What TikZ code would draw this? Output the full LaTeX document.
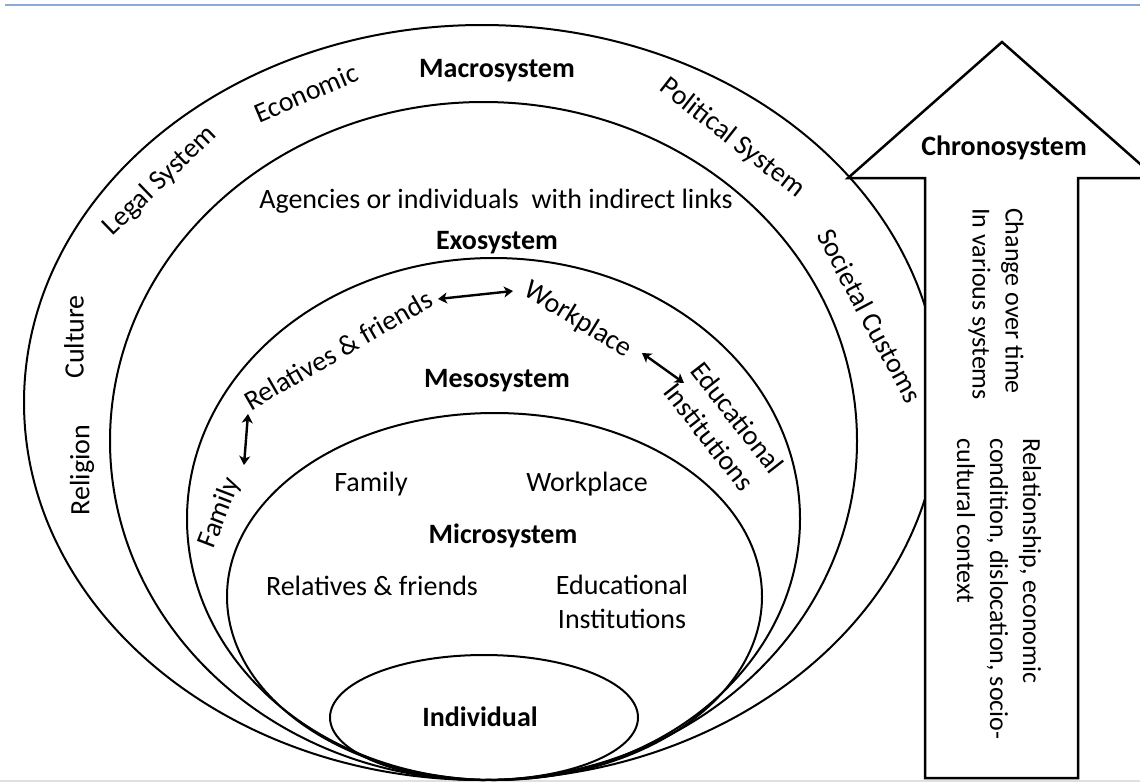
\documentclass[tikz,border=0pt]{standalone}
\usepackage{fontspec}
\setmainfont{Carlito}
\usetikzlibrary{arrows.meta}
\begin{document}
\begin{tikzpicture}[x=1pt,y=-1pt,
  ring/.style={draw=black,line width=2pt},
  lbl/.style={font=\fontsize{28}{34}\selectfont, inner sep=0pt},
  bl/.style={font=\fontsize{28}{34}\selectfont\bfseries, inner sep=0pt},
  chr/.style={font=\fontsize{26}{33}\selectfont, inner sep=0pt, align=left, rotate=-90},
  link/.style={{Stealth[length=9pt,width=11pt,inset=2.5pt]}-{Stealth[length=9pt,width=11pt,inset=2.5pt]}, line width=2.4pt},
  chrono/.style={draw=black, line width=2.5pt, fill=white, line join=miter}
]
\useasboundingbox (0,0) rectangle (1140,782);
\clip (0,0) rectangle (1140,782);
% top and bottom rules
\draw[line width=2pt, draw={rgb,255:red,141;green,170;blue,214}] (5,5) -- (1140,5);
\draw[line width=2pt, draw=black!12] (0,781) -- (1140,781);
% rings
\draw[ring] (482,402.5) ellipse [x radius=458pt, y radius=377.5pt];
\draw[ring] (483.5,441) ellipse [x radius=373.5pt, y radius=339pt];
\draw[ring] (493.5,519) ellipse [x radius=306.5pt, y radius=261pt];
\draw[ring] (494.5,596.5) ellipse [x radius=267.5pt, y radius=183.5pt];
\draw[ring] (484,717.5) ellipse [x radius=154pt, y radius=62.5pt];
% chronosystem arrow
\draw[chrono] (925,778) -- (925,178) -- (848,178) -- (1002,42) -- (1156,178) -- (1078,178) -- (1078,778) -- cycle;
% macrosystem
\node[bl] (macro) at (497,71) {Macrosystem};
\node[lbl,rotate=90] (religion) at (82,470) {Religion};
\node[lbl,rotate=90] (culture) at (74,337) {Culture};
\node[lbl,rotate=44] (legal) at (160,181) {Legal System};
\node[lbl,rotate=23] (econ) at (306,93) {Economic};
\node[lbl,rotate=-38] (pol) at (732,138) {Political System};
\node[lbl,rotate=-62] (soc) at (870,316) {Societal Customs};
% exosystem
\node[lbl] (agen) at (496,201) {Agencies or individuals\ \ with indirect links};
\node[bl] (exo) at (497,243) {Exosystem};
% mesosystem
\node[lbl,rotate=30] (mrel) at (338,350) {Relatives \& friends};
\node[lbl,rotate=-31.5] (mwork) at (578,320) {Workplace};
\node[lbl,rotate=-52,align=left] (medu) at (724,428) {Educational\\Institutions};
\node[lbl,rotate=69] (mfam) at (220,513) {Family};
\node[bl] (meso) at (497,381) {Mesosystem};
\coordinate (a1) at (438,299);
\coordinate (a2) at (513,291);
\coordinate (b1) at (642,353);
\coordinate (b2) at (684,383);
\coordinate (c1) at (248,414);
\coordinate (c2) at (244,465);
\draw[link] (a1) -- (a2);
\draw[link] (b1) -- (b2);
\draw[link] (c1) -- (c2);
% microsystem
\node[lbl] (ufam) at (371,484) {Family};
\node[lbl] (uwork) at (587,484) {Workplace};
\node[bl] (micro) at (503,536) {Microsystem};
\node[lbl] (urel) at (372,586) {Relatives \& friends};
\node[lbl,align=center] (uedu) at (622,602) {Educational\\Institutions};
% individual
\node[bl] (ind) at (480,717) {Individual};
% chronosystem texts
\node[bl] (chron) at (1004,148) {Chronosystem};
\node[chr] (chg) at (996,304) {Change over time\\In various systems};
\node[chr] (rel) at (999,589) {Relationship, economic\\condition, dislocation, socio-\\cultural context};
\end{tikzpicture}
\end{document}
